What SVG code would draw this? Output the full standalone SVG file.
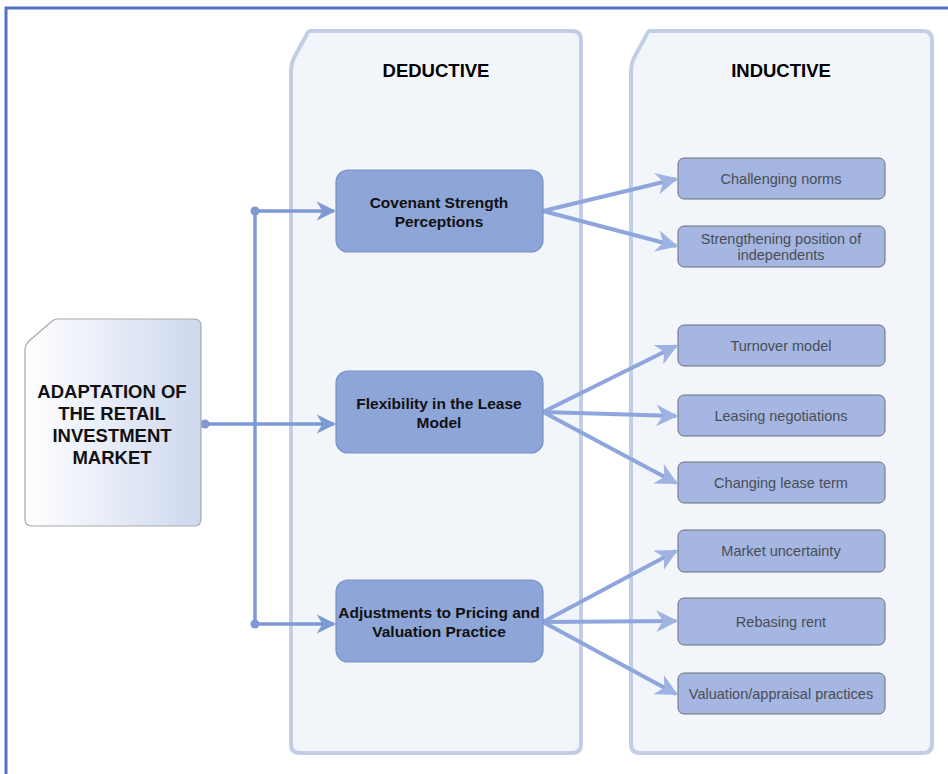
<svg xmlns="http://www.w3.org/2000/svg" width="948" height="774" viewBox="0 0 948 774">
<defs>
<style>
.frame{fill:#ffffff;stroke:#5572c0;stroke-width:3}
.cont{fill:#f2f6fb;stroke:#c2cee6;stroke-width:4}
.head{font-family:"Liberation Sans",Arial,sans-serif;font-weight:bold;font-size:18.5px;fill:#000;text-anchor:middle}
.main{stroke:#a9a9a9;stroke-width:1.2}
.mainT{font-family:"Liberation Sans",Arial,sans-serif;font-weight:bold;font-size:18.5px;fill:#111;text-anchor:middle}
.ded{fill:#8ea5d8;stroke:#7890c8;stroke-width:1.2}
.dedT{font-family:"Liberation Sans",Arial,sans-serif;font-weight:bold;font-size:15.5px;fill:#111;text-anchor:middle}
.ind{fill:#a4b6e1;stroke:#6a6e78;stroke-width:1}
.indT{font-family:"Liberation Sans",Arial,sans-serif;font-size:14.5px;fill:#4a4d55;text-anchor:middle}
.conn{fill:none;stroke:#7f99d5;stroke-width:3.5}
.fan{fill:none;stroke:#8fa6dc;stroke-width:4}
</style>
<linearGradient id="mg" x1="0" y1="0" x2="1" y2="0">
<stop offset="0" stop-color="#ffffff"/>
<stop offset="1" stop-color="#cdd8ee"/>
</linearGradient>
<marker id="ah" viewBox="0 0 10 10" refX="9" refY="5" markerWidth="5.5" markerHeight="5.5" markerUnits="strokeWidth" orient="auto">
<path d="M0,0 L10,5 L0,10 L3,5 Z" fill="#7f99d5"/>
</marker>
<marker id="ah2" viewBox="0 0 10 10" refX="9" refY="5" markerWidth="5.5" markerHeight="5.5" markerUnits="strokeWidth" orient="auto">
<path d="M0,0 L10,5 L0,10 L3,5 Z" fill="#9fb3e2"/>
</marker>
</defs>
<rect x="0" y="0" width="948" height="774" fill="#ffffff"/>
<rect class="frame" x="6" y="8" width="950" height="780"/>

<g id="deductive">
<path class="cont" d="M310,31 L572,31 Q581,31 581,40 L581,744 Q581,753 572,753 L300,753 Q291,753 291,744 L291,72 Q291,62 296,54 L306,36 Q308,31 310,31 Z"/>
<text class="head" x="436" y="77">DEDUCTIVE</text>
</g>
<g id="inductive">
<path class="cont" d="M650,31 L923,31 Q932,31 932,40 L932,744 Q932,753 923,753 L640,753 Q631,753 631,744 L631,72 Q631,62 636,54 L646,36 Q648,31 650,31 Z"/>
<text class="head" x="781" y="77">INDUCTIVE</text>
</g>

<g id="connectors">
<path class="conn" d="M255,211 L255,624"/>
<circle cx="255" cy="211" r="4.5" fill="#7f99d5"/>
<circle cx="255" cy="624" r="4.5" fill="#7f99d5"/>
<circle cx="205" cy="424" r="4.5" fill="#7f99d5"/>
<path class="conn" d="M255,211 L334,211" marker-end="url(#ah)"/>
<path class="conn" d="M205,424 L334,424" marker-end="url(#ah)"/>
<path class="conn" d="M255,624 L334,624" marker-end="url(#ah)"/>
<path class="fan" d="M543,211 L676,179" marker-end="url(#ah2)"/>
<path class="fan" d="M543,211 L676,246" marker-end="url(#ah2)"/>
<path class="fan" d="M543,412 L676,346" marker-end="url(#ah2)"/>
<path class="fan" d="M543,412 L676,416" marker-end="url(#ah2)"/>
<path class="fan" d="M543,412 L676,483" marker-end="url(#ah2)"/>
<path class="fan" d="M543,622 L676,551" marker-end="url(#ah2)"/>
<path class="fan" d="M543,622 L676,621" marker-end="url(#ah2)"/>
<path class="fan" d="M543,622 L676,694" marker-end="url(#ah2)"/>
</g>

<g id="main">
<path class="main" fill="url(#mg)" d="M57,319 L194,319 Q201,319 201,326 L201,519 Q201,526 194,526 L32,526 Q25,526 25,519 L25,350 Q25,345 29,341 L51,322 Q54,319 57,319 Z"/>
<text class="mainT" x="112" y="398">ADAPTATION OF</text>
<text class="mainT" x="112" y="420">THE RETAIL</text>
<text class="mainT" x="112" y="442">INVESTMENT</text>
<text class="mainT" x="112" y="464">MARKET</text>
</g>

<g id="covenant">
<rect class="ded" x="336" y="170" width="207" height="82" rx="12"/>
<text class="dedT" x="439" y="208">Covenant Strength</text>
<text class="dedT" x="439" y="227">Perceptions</text>
</g>
<g id="flexibility">
<rect class="ded" x="336" y="371" width="207" height="82" rx="12"/>
<text class="dedT" x="439" y="409">Flexibility in the Lease</text>
<text class="dedT" x="439" y="428">Model</text>
</g>
<g id="adjustments">
<rect class="ded" x="336" y="580" width="207" height="82" rx="12"/>
<text class="dedT" x="439" y="618">Adjustments to Pricing and</text>
<text class="dedT" x="439" y="637">Valuation Practice</text>
</g>

<g id="challenging">
<rect class="ind" x="678" y="158" width="207" height="41" rx="6"/>
<text class="indT" x="781" y="184">Challenging norms</text>
</g>
<g id="strengthening">
<rect class="ind" x="678" y="226" width="207" height="41" rx="6"/>
<text class="indT" x="781" y="244">Strengthening position of</text>
<text class="indT" x="781" y="260">independents</text>
</g>
<g id="turnover">
<rect class="ind" x="678" y="325" width="207" height="41" rx="6"/>
<text class="indT" x="781" y="351">Turnover model</text>
</g>
<g id="leasing">
<rect class="ind" x="678" y="395" width="207" height="41" rx="6"/>
<text class="indT" x="781" y="421">Leasing negotiations</text>
</g>
<g id="changing">
<rect class="ind" x="678" y="462" width="207" height="41" rx="6"/>
<text class="indT" x="781" y="488">Changing lease term</text>
</g>
<g id="market">
<rect class="ind" x="678" y="530" width="207" height="42" rx="6"/>
<text class="indT" x="781" y="556">Market uncertainty</text>
</g>
<g id="rebasing">
<rect class="ind" x="678" y="598" width="207" height="47" rx="6"/>
<text class="indT" x="781" y="627">Rebasing rent</text>
</g>
<g id="valuation">
<rect class="ind" x="678" y="673" width="207" height="41" rx="6"/>
<text class="indT" x="781" y="699">Valuation/appraisal practices</text>
</g>
</svg>
